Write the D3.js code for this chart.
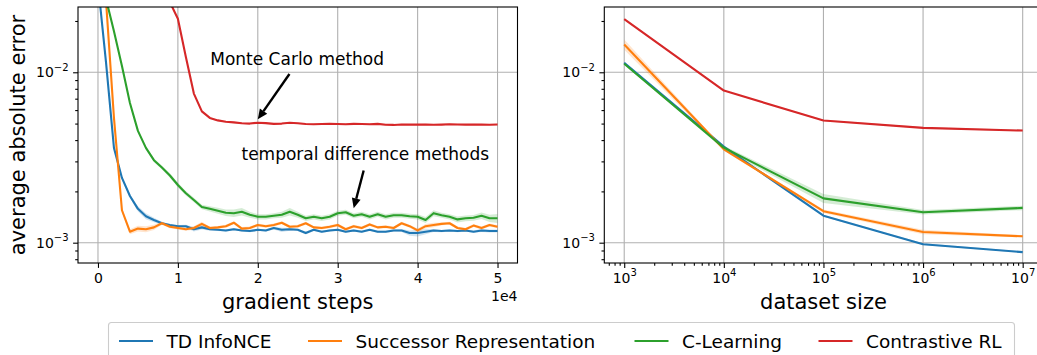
<!DOCTYPE html>
<html>
<head>
<meta charset="utf-8">
<script src="https://cdn.jsdelivr.net/npm/d3@7"></script>
<style>
  body { margin: 0; background: #fff; }
  text { font-family: "DejaVu Sans", sans-serif; fill: #000; }
</style>
</head>
<body>
<div id="chart"></div>
<script>
// series names + tab10 colours
const seriesNames = ["TD InfoNCE", "Successor Representation", "C-Learning", "Contrastive RL"];
const colors = ["#1f77b4", "#ff7f0e", "#2ca02c", "#d62728"];

// left panel: error vs gradient steps
const steps = [0,1000,2000,3000,4000,5000,6000,7000,8000,9000,
  10000,11000,12000,13000,14000,15000,16000,17000,18000,19000,
  20000,21000,22000,23000,24000,25000,26000,27000,28000,29000,
  30000,31000,32000,33000,34000,35000,36000,37000,38000,39000,
  40000,41000,42000,43000,44000,45000,46000,47000,48000,49000,50000];

const stepsTD = [0.033,0.0115,0.0036,0.0024,0.00188,0.00158,0.00143,0.00136,0.00130,0.00127,
  0.00125,0.00125,0.00120,0.00123,0.00120,0.00119,0.00118,0.00120,0.00118,0.00117,
  0.00119,0.00118,0.00122,0.00119,0.00120,0.00119,0.00114,0.00119,0.00116,0.00118,
  0.00119,0.00116,0.00118,0.00116,0.00119,0.00116,0.00116,0.00118,0.00118,0.00114,
  0.00114,0.00116,0.00118,0.00117,0.00118,0.00117,0.00118,0.00116,0.00118,0.00117,0.00117];
const stepsSR = [0.05,0.0265,0.0054,0.00155,0.00116,0.00121,0.00120,0.00123,0.00130,0.00124,
  0.00122,0.00120,0.00122,0.00129,0.00122,0.00123,0.00125,0.00131,0.00121,0.00122,
  0.00127,0.00125,0.00127,0.00131,0.00124,0.00125,0.00130,0.00123,0.00122,0.00124,
  0.00127,0.00120,0.00125,0.00122,0.00128,0.00123,0.00124,0.00122,0.00130,0.00125,
  0.00118,0.00125,0.00127,0.00129,0.00130,0.00122,0.00120,0.00126,0.00122,0.00127,0.00124];
const stepsCL = [0.06,0.027,0.0174,0.0109,0.0066,0.00453,0.0036,0.00305,0.00276,0.00248,
  0.00218,0.00195,0.00178,0.00162,0.00158,0.00154,0.00150,0.00149,0.00152,0.00146,
  0.00142,0.00142,0.00144,0.00146,0.00152,0.00146,0.00139,0.00142,0.00139,0.00142,
  0.00149,0.00151,0.00144,0.00147,0.00142,0.00147,0.00142,0.00145,0.00145,0.00143,
  0.00142,0.00136,0.00149,0.00145,0.00142,0.00137,0.00139,0.00140,0.00144,0.00139,0.00139];
const stepsCRL = [0.09,0.085,0.08,0.075,0.07,0.065,0.06,0.05,0.034,0.0258,
  0.0206,0.0123,0.0075,0.0059,0.0054,0.00522,0.00513,0.00508,0.00502,0.00500,
  0.00506,0.00503,0.00498,0.00500,0.00506,0.00502,0.00497,0.00496,0.00497,0.00498,
  0.00497,0.00496,0.00498,0.00497,0.00496,0.00498,0.00492,0.00491,0.00494,0.00493,
  0.00493,0.00494,0.00492,0.00493,0.00495,0.00494,0.00493,0.00494,0.00493,0.00492,0.00494];

// relative half-width of the shaded bands
const stepsTDSpread = [0.02,0.02,0.02,0.02,0.025,0.035,0.04,0.03,0.02,0.015,
  0.015,0.02,0.03,0.03,0.02,0.015,0.015,0.015,0.015,0.015,
  0.015,0.015,0.02,0.03,0.02,0.015,0.02,0.015,0.015,0.015,
  0.015,0.015,0.015,0.015,0.015,0.015,0.015,0.015,0.02,0.035,
  0.045,0.035,0.02,0.015,0.015,0.015,0.015,0.015,0.02,0.02,0.02];
const stepsSRSpread = [0.02,0.02,0.02,0.03,0.035,0.04,0.04,0.035,0.02,0.02,
  0.02,0.02,0.025,0.03,0.02,0.02,0.02,0.02,0.02,0.02,
  0.02,0.02,0.02,0.02,0.02,0.02,0.02,0.02,0.02,0.02,
  0.02,0.02,0.02,0.02,0.02,0.02,0.02,0.02,0.02,0.02,
  0.025,0.03,0.03,0.02,0.02,0.02,0.02,0.02,0.02,0.02,0.02];
const stepsCLSpread = [0.02,0.02,0.02,0.02,0.02,0.02,0.02,0.025,0.025,0.03,
  0.03,0.03,0.03,0.03,0.035,0.04,0.045,0.05,0.05,0.04,
  0.035,0.035,0.035,0.04,0.05,0.04,0.035,0.035,0.035,0.035,
  0.035,0.035,0.035,0.035,0.035,0.035,0.035,0.035,0.035,0.035,
  0.035,0.04,0.04,0.035,0.035,0.04,0.04,0.04,0.045,0.05,0.06];
const stepsCRLSpread = [0.01,0.01,0.01,0.01,0.01,0.01,0.01,0.01,0.01,0.01,
  0.01,0.01,0.01,0.01,0.01,0.01,0.01,0.01,0.01,0.01,
  0.01,0.01,0.01,0.01,0.01,0.01,0.01,0.01,0.01,0.01,
  0.01,0.01,0.01,0.01,0.01,0.01,0.01,0.01,0.01,0.01,
  0.01,0.01,0.01,0.01,0.01,0.01,0.01,0.01,0.01,0.01,0.01];

// right panel: error vs dataset size
const datasetSizes = [1e3, 1e4, 1e5, 1e6, 1e7];
const sizeTD = [0.01137, 0.00366, 0.00144, 0.00098, 0.00088];
const sizeSR = [0.01456, 0.00353, 0.00153, 0.001156, 0.00109];
const sizeCL = [0.01122, 0.00361, 0.00182, 0.00151, 0.00160];
const sizeCRL = [0.0205, 0.00781, 0.00521, 0.00472, 0.00455];
const sizeTDSpread = [0.01, 0.01, 0.012, 0.012, 0.01];
const sizeSRSpread = [0.07, 0.015, 0.025, 0.03, 0.015];
const sizeCLSpread = [0.012, 0.025, 0.06, 0.03, 0.03];
const sizeCRLSpread = [0.005, 0.006, 0.01, 0.01, 0.01];

// tick values
const stepTicks = [0, 10000, 20000, 30000, 40000, 50000];
const errMajor = [1e-3, 1e-2];
const errMinor = [8e-4, 9e-4, 2e-3, 3e-3, 4e-3, 5e-3, 6e-3, 7e-3, 8e-3, 9e-3, 2e-2];
const sizeMajor = [1e3, 1e4, 1e5, 1e6, 1e7];
const sizeMinor = [700, 800, 900];
[1e3, 1e4, 1e5, 1e6].forEach(b => { for (let k = 2; k <= 9; k++) sizeMinor.push(b * k); });

// annotations [text, textX, textY, tailX, tailY, tipX, tipY] in data units
const notes = [
  ["Monte Carlo method", 14050, 0.0110, 23960, 0.00977, 20000, 0.0053],
  ["temporal difference methods", 17960, 0.00304, 33250, 0.00265, 32000, 0.00159]
];

const W = 1037, H = 355;
const svg = d3.select("#chart").append("svg")
  .attr("width", W).attr("height", H)
  .style("display", "block");

const yTop = 7, yBottom = 263;
const gridColor = "#b0b0b0";

const xL = d3.scaleLinear().domain([-2500, 52500]).range([78, 517.5]);
const xR = d3.scaleLog().domain([Math.pow(10, 2.8), Math.pow(10, 7.2)]).range([604.3, 1042.6]);
const y = d3.scaleLog().domain([0.00076, 0.02416]).range([yBottom, yTop]);

function supLabel(sel, expOf) {
  sel.each(function(d) {
    const t = d3.select(this);
    t.text(null);
    t.append("tspan").text("10");
    t.append("tspan").attr("dy", -6.5).attr("font-size", 10)
      .text(String(expOf(d)).replace("-", "\u2212"));
  });
}

function panel(id, x, xTicks, xs, series, spreads) {
  const g = svg.append("g");
  const x0 = x.range()[0], x1 = x.range()[1];

  svg.append("clipPath").attr("id", id)
    .append("rect").attr("x", x0).attr("y", yTop)
    .attr("width", x1 - x0).attr("height", yBottom - yTop);

  // grid
  g.selectAll(".vg").data(xTicks).join("line")
    .attr("x1", d => x(d)).attr("x2", d => x(d))
    .attr("y1", yTop).attr("y2", yBottom)
    .attr("stroke", gridColor).attr("stroke-width", 1.1);
  g.selectAll(".hg").data(errMajor).join("line")
    .attr("x1", x0).attr("x2", x1)
    .attr("y1", d => y(d)).attr("y2", d => y(d))
    .attr("stroke", gridColor).attr("stroke-width", 1.1);

  const plot = g.append("g").attr("clip-path", `url(#${id})`);
  series.forEach((vals, i) => {
    const sp = spreads[i];
    const area = d3.area()
      .x((d, j) => x(xs[j]))
      .y0((d, j) => y(d * (1 - sp[j])))
      .y1((d, j) => y(d * (1 + sp[j])));
    const line = d3.line().x((d, j) => x(xs[j])).y(d => y(d));
    plot.append("path").datum(vals).attr("d", area)
      .attr("fill", colors[i]).attr("fill-opacity", 0.2);
    plot.append("path").datum(vals).attr("d", line)
      .attr("fill", "none").attr("stroke", colors[i])
      .attr("stroke-width", 2.1).attr("stroke-linejoin", "round");
  });

  // y axis
  const ya = g.append("g").attr("transform", `translate(${x0},0)`)
    .call(d3.axisLeft(y).tickValues(errMajor).tickSize(4.9).tickPadding(4.5));
  ya.selectAll("text").attr("font-size", 14).call(supLabel, d => Math.round(Math.log10(d)));
  g.append("g").attr("transform", `translate(${x0},0)`)
    .call(d3.axisLeft(y).tickValues(errMinor).tickSize(2.8).tickFormat(""));

  // frame
  g.selectAll(".domain").remove();
  g.selectAll(".tick line").attr("stroke", "#000").attr("stroke-width", 1.1);
  g.append("rect").attr("x", x0).attr("y", yTop)
    .attr("width", x1 - x0).attr("height", yBottom - yTop)
    .attr("fill", "none").attr("stroke", "#000").attr("stroke-width", 1.1);
  return g;
}

// left panel
const gL = panel("clipL", xL, stepTicks, steps,
  [stepsTD, stepsSR, stepsCL, stepsCRL],
  [stepsTDSpread, stepsSRSpread, stepsCLSpread, stepsCRLSpread]);
const xaL = gL.append("g").attr("transform", `translate(0,${yBottom})`)
  .call(d3.axisBottom(xL).tickValues(stepTicks).tickSize(4.9).tickPadding(4.9)
    .tickFormat(d => d / 1e4));
xaL.select(".domain").remove();
xaL.selectAll(".tick line").attr("stroke-width", 1.1);
xaL.selectAll("text").attr("font-size", 14);
gL.append("text").attr("x", 517.5).attr("y", 301).attr("text-anchor", "end")
  .attr("font-size", 14).text("1e4");
gL.append("text").attr("x", (78 + 517.5) / 2).attr("y", 308.5).attr("text-anchor", "middle")
  .attr("font-size", 21).text("gradient steps");
gL.append("text").attr("transform", "translate(24.5,135) rotate(-90)")
  .attr("text-anchor", "middle").attr("font-size", 21).text("average absolute error");

// annotations
notes.forEach(n => {
  const [label, tx, ty, ax, ay, hx, hy] = n;
  gL.append("text").attr("x", xL(tx)).attr("y", y(ty)).attr("font-size", 17).text(label);
  const x1 = xL(ax), y1 = y(ay), x2 = xL(hx), y2 = y(hy);
  const ang = Math.atan2(y2 - y1, x2 - x1);
  const hl = 10, hw = 4.5;
  const bx = x2 - hl * Math.cos(ang), by = y2 - hl * Math.sin(ang);
  gL.append("line").attr("x1", x1).attr("y1", y1).attr("x2", bx).attr("y2", by)
    .attr("stroke", "#000").attr("stroke-width", 2.4);
  gL.append("polygon").attr("fill", "#000").attr("points", [
    [x2, y2],
    [bx + hw * Math.sin(ang), by - hw * Math.cos(ang)],
    [bx - hw * Math.sin(ang), by + hw * Math.cos(ang)]
  ].map(p => p.join(",")).join(" "));
});

// right panel
const gR = panel("clipR", xR, sizeMajor, datasetSizes,
  [sizeTD, sizeSR, sizeCL, sizeCRL],
  [sizeTDSpread, sizeSRSpread, sizeCLSpread, sizeCRLSpread]);
const xaR = gR.append("g").attr("transform", `translate(0,${yBottom})`)
  .call(d3.axisBottom(xR).tickValues(sizeMajor).tickSize(4.9).tickPadding(4.9));
xaR.selectAll("text").attr("font-size", 14).call(supLabel, d => Math.round(Math.log10(d)));
gR.append("g").attr("transform", `translate(0,${yBottom})`)
  .call(d3.axisBottom(xR).tickValues(sizeMinor).tickSize(2.8).tickFormat(""));
gR.selectAll(".domain").remove();
gR.selectAll(".tick line").attr("stroke", "#000").attr("stroke-width", 1.1);
gR.append("text").attr("x", (604.3 + 1042.6) / 2).attr("y", 308.5).attr("text-anchor", "middle")
  .attr("font-size", 21).text("dataset size");

// legend
const lg = svg.append("g");
lg.append("rect").attr("x", 108.5).attr("y", 322.5).attr("width", 906).attr("height", 36)
  .attr("rx", 3).attr("fill", "#fff").attr("stroke", "#cccccc").attr("stroke-width", 1.1);
const legendX = [119, 308, 634.5, 818.5];
seriesNames.forEach((name, i) => {
  lg.append("line").attr("x1", legendX[i]).attr("x2", legendX[i] + 34)
    .attr("y1", 341).attr("y2", 341)
    .attr("stroke", colors[i]).attr("stroke-width", 2.1);
  lg.append("text").attr("x", legendX[i] + 47.5).attr("y", 347.5)
    .attr("font-size", 18.5).text(name);
});
</script>
</body>
</html>
